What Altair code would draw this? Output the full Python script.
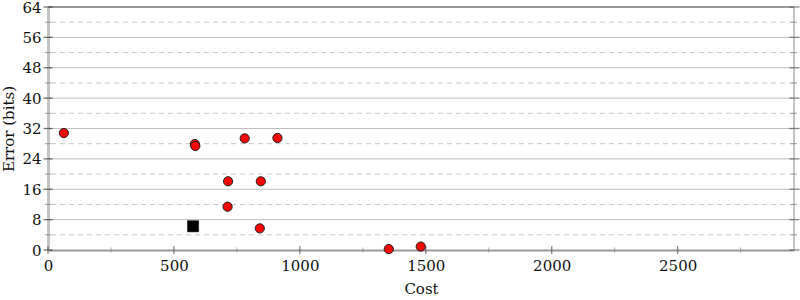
import altair as alt
import pandas as pd

# data
cost = [63, 583, 585, 781, 911, 715, 845, 713, 841, 1353, 1480]
error = [30.8, 27.9, 27.4, 29.4, 29.5, 18.1, 18.1, 11.4, 5.7, 0.25, 0.9]
best_cost = [576]
best_error = [6.25]

x_major = [0, 500, 1000, 1500, 2000, 2500]
x_minor = [250, 750, 1250, 1750, 2250, 2750]
y_major = [0, 8, 16, 24, 32, 40, 48, 56, 64]
y_minor = [4, 12, 20, 28, 36, 44, 52, 60]
X_MAX = 2962
Y_MAX = 64

FONT = "DejaVu Serif"
FS = 15

pts = pd.DataFrame({"cost": cost, "error": error})
best = pd.DataFrame({"cost": best_cost, "error": best_error})
ymaj = pd.DataFrame({"v": y_major})
ymin = pd.DataFrame({"v": y_minor})
xmaj = pd.DataFrame({"v": x_major})
xmin = pd.DataFrame({"v": x_minor})

xs = alt.Scale(domain=[0, X_MAX], nice=False, zero=False)
ys = alt.Scale(domain=[0, Y_MAX], nice=False, zero=False)

xaxis = alt.Axis(values=x_major, format="d", ticks=False, tickSize=0, grid=False,
                 domainColor="#999999", domainWidth=2, labelFont=FONT, labelFontSize=FS,
                 labelColor="#111", labelPadding=8, labelOverlap=False, labelFlush=False,
                 title="Cost", titleFont=FONT, titleFontSize=FS,
                 titleFontWeight="normal", titleColor="#111", titlePadding=8)
yaxis = alt.Axis(values=y_major, format="d", ticks=False, tickSize=0, grid=False,
                 domainColor="#c4c4c4", domainWidth=3, labelFont=FONT, labelFontSize=FS,
                 labelColor="#111", labelPadding=7, labelOverlap=False, labelFlush=False,
                 title="Error (bits)", titleFont=FONT, titleFontSize=FS,
                 titleFontWeight="normal", titleColor="#111", titlePadding=5)

X = lambda f: alt.X(f, scale=xs, axis=xaxis)
Y = lambda f: alt.Y(f, scale=ys, axis=yaxis)
XD = lambda v: alt.datum(v, scale=xs, axis=xaxis)
YD = lambda v: alt.datum(v, scale=ys, axis=yaxis)

grid_major = alt.Chart(ymaj[(ymaj.v > 0) & (ymaj.v < Y_MAX)]).mark_rule(
    color="#bdbdbd", strokeWidth=1).encode(y=Y("v:Q"))
grid_minor = alt.Chart(ymin).mark_rule(
    color="#c8c8c8", strokeWidth=1, strokeDash=[5, 4]).encode(y=Y("v:Q"))
top_line = alt.Chart(ymaj[ymaj.v == Y_MAX]).mark_rule(
    color="#999999", strokeWidth=2).encode(y=Y("v:Q"))
right_line = alt.Chart(ymaj[ymaj.v == Y_MAX]).mark_rule(
    color="#c4c4c4", strokeWidth=2).encode(
    x=XD(X_MAX), y=YD(0), y2=alt.datum(Y_MAX))

left_major = alt.Chart(ymaj).mark_tick(orient="horizontal", size=9, thickness=1.3,
                                        color="#333").encode(x=XD(0), y=Y("v:Q"))
left_minor = alt.Chart(ymin).mark_tick(orient="horizontal", size=6, thickness=1,
                                        color="#777").encode(x=XD(0), y=Y("v:Q"))
right_major = alt.Chart(ymaj).mark_tick(orient="horizontal", size=10, thickness=1.3,
                                         color="#555").encode(x=XD(X_MAX + 2), y=Y("v:Q"))
right_minor = alt.Chart(ymin).mark_tick(orient="horizontal", size=6, thickness=1,
                                         color="#777").encode(x=XD(X_MAX), y=Y("v:Q"))
bottom_major = alt.Chart(xmaj).mark_tick(orient="vertical", size=8, thickness=1.3,
                                          color="#555").encode(x=X("v:Q"), y=YD(0))
bottom_minor = alt.Chart(xmin[xmin.v < X_MAX]).mark_tick(orient="vertical", size=5, thickness=1,
                                                        color="#888").encode(x=X("v:Q"), y=YD(0))

points = alt.Chart(pts).mark_point(shape="circle", filled=True, fill="#ff0000",
                                   stroke="#222", strokeWidth=1, size=85, opacity=1).encode(
    x=X("cost:Q"), y=Y("error:Q"))
best_pt = alt.Chart(best).mark_point(shape="square", filled=True, fill="#000000",
                                     stroke="#000", strokeWidth=0.5, size=125, opacity=1).encode(
    x=X("cost:Q"), y=Y("error:Q"))

chart = alt.layer(
    grid_minor, grid_major, top_line, right_line,
    left_minor, left_major, right_minor, right_major, bottom_minor, bottom_major,
    best_pt, points,
).properties(
    width=746, height=243,
    autosize=alt.AutoSizeParams(type="none"),
    padding={"left": 48, "top": 7, "right": 6, "bottom": 50},
).configure_view(stroke=None).configure(background="white")

chart.save("out.html", embed_options={"renderer": "svg", "actions": False})
